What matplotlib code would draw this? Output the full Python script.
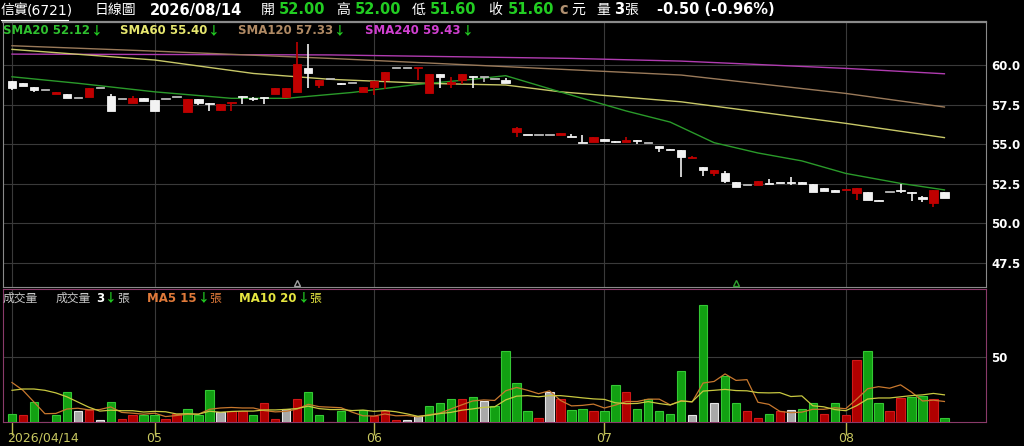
import matplotlib
matplotlib.use('Agg')
import matplotlib.pyplot as plt
from matplotlib.lines import Line2D
import numpy as np
import pandas as pd

# ---- values (86 trading days, 2026/04/14 - 2026/08/14) ----
opens = [59.00, 58.85, 58.63, 58.45, 58.15, 58.15, 57.94, 58.00, 58.53, 58.04,
         57.83, 57.62, 57.94, 57.79, 57.83, 57.96, 57.05, 57.83, 57.62, 57.16,
         57.58, 58.02, 57.89, 57.96, 58.15, 58.00, 58.31, 59.79, 58.74, 59.10,
         58.86, 58.84, 58.28, 58.63, 59.05, 59.83, 59.83, 59.79, 58.21, 59.43,
         58.80, 59.05, 59.33, 59.22, 59.12, 59.05, 55.79, 55.60, 55.60, 55.60,
         55.58, 55.54, 55.11, 55.12, 55.33, 55.22, 55.12, 55.22, 55.09, 54.92,
         54.70, 54.63, 54.11, 53.54, 53.16, 53.16, 52.59, 52.42, 52.41, 52.55,
         52.58, 52.58, 52.60, 52.47, 52.25, 52.10, 52.13, 51.94, 52.00, 51.46,
         52.00, 52.08, 51.96, 51.69, 51.31, 52.00]
highs = [59.02, 58.85, 58.63, 58.45, 58.28, 58.15, 57.94, 58.53, 58.53, 58.17,
         57.83, 58.04, 57.94, 57.79, 57.83, 57.96, 57.85, 57.83, 57.62, 57.55,
         57.63, 58.02, 57.96, 57.96, 58.53, 58.53, 61.47, 61.33, 59.05, 59.10,
         58.86, 58.84, 58.63, 59.01, 59.54, 59.83, 59.83, 59.83, 59.43, 59.43,
         59.22, 59.43, 59.33, 59.22, 59.12, 59.16, 56.07, 55.60, 55.60, 55.60,
         55.69, 55.64, 55.58, 55.47, 55.33, 55.22, 55.47, 55.30, 55.09, 54.92,
         54.70, 54.63, 54.23, 53.54, 53.37, 53.33, 52.59, 52.42, 52.70, 52.78,
         52.58, 52.95, 52.60, 52.47, 52.25, 52.10, 52.17, 52.25, 52.00, 51.46,
         52.00, 52.47, 51.96, 51.74, 52.11, 52.00]
lows = [58.42, 58.65, 58.31, 58.45, 58.15, 57.94, 57.94, 58.00, 58.53, 57.10,
        57.83, 57.62, 57.73, 57.10, 57.83, 57.96, 57.05, 57.47, 57.10, 57.08,
        57.10, 57.55, 57.73, 57.54, 58.15, 57.90, 58.31, 58.53, 58.53, 59.10,
        58.75, 58.84, 58.28, 58.10, 58.47, 59.83, 59.83, 59.05, 58.21, 58.53,
        58.53, 58.80, 58.53, 58.91, 59.12, 58.84, 55.47, 55.56, 55.60, 55.60,
        55.58, 55.43, 55.09, 55.12, 55.20, 55.06, 55.12, 55.03, 55.09, 54.53,
        54.66, 52.95, 54.11, 53.01, 53.01, 52.57, 52.32, 52.42, 52.41, 52.51,
        52.56, 52.42, 52.50, 51.96, 52.06, 51.96, 52.13, 51.48, 51.48, 51.42,
        52.00, 51.90, 51.41, 51.37, 51.05, 51.60]
closes = [58.55, 58.65, 58.42, 58.45, 58.28, 57.94, 57.94, 58.53, 58.53, 57.10,
          57.83, 57.94, 57.73, 57.10, 57.83, 57.96, 57.85, 57.62, 57.55, 57.55,
          57.63, 57.98, 57.86, 57.92, 58.53, 58.53, 60.04, 59.51, 59.05, 59.10,
          58.82, 58.84, 58.63, 59.01, 59.54, 59.83, 59.83, 59.83, 59.43, 59.22,
          58.95, 59.43, 59.22, 59.22, 59.12, 58.84, 56.00, 55.56, 55.60, 55.60,
          55.69, 55.43, 55.09, 55.47, 55.20, 55.12, 55.26, 55.18, 55.09, 54.74,
          54.66, 54.21, 54.21, 53.35, 53.35, 52.68, 52.32, 52.42, 52.70, 52.51,
          52.56, 52.56, 52.50, 51.96, 52.06, 51.96, 52.17, 52.25, 51.48, 51.42,
          52.00, 52.04, 51.92, 51.52, 52.10, 51.60]
volumes = [6, 5, 15, 0, 5, 23, 8, 9, 1, 15,
           2, 5, 5, 5, 2, 6, 10, 5, 24, 7,
           8, 8, 5, 14, 2, 10, 17, 23, 5, 0,
           8, 0, 9, 4, 8, 1, 1, 4, 12, 14,
           17, 17, 19, 16, 12, 54, 30, 8, 3, 23,
           17, 9, 10, 8, 8, 28, 23, 10, 17, 8,
           6, 39, 5, 90, 14, 35, 14, 8, 3, 6,
           8, 9, 10, 14, 6, 14, 5, 47, 54, 14,
           8, 18, 19, 20, 17, 3]
# volume colour: g = down day, r = up day, n = unchanged
vol_colors = list("grggggnrng" "rrggrrgggn" "rrgrrnrggr" "gngrrrnngg"
                  "grgnggggrn" "rggrggrggg" "ggngnggrrg" "rnggrgrrgg"
                  "rrggrg")

# moving averages read at sample days
sma20_x = [0, 6, 13, 20, 25, 31, 37, 42, 45, 50, 56, 60, 64, 68, 72, 76, 81, 85]
sma20_y = [59.26, 58.85, 58.31, 57.90, 57.90, 58.27, 58.78, 59.10, 59.33, 58.30,
           57.10, 56.40, 55.10, 54.45, 53.95, 53.16, 52.53, 52.12]
sma60_x = [0, 13, 22, 29, 38, 45, 50, 61, 76, 85]
sma60_y = [60.99, 60.32, 59.47, 59.10, 58.84, 58.74, 58.31, 57.68, 56.32, 55.42]
sma120_x = [0, 13, 29, 45, 61, 76, 85]
sma120_y = [61.22, 60.88, 60.42, 59.90, 59.37, 58.21, 57.35]
sma240_x = [0, 29, 51, 61, 76, 85]
sma240_y = [60.69, 60.64, 60.42, 60.25, 59.79, 59.45]
vol_ma5_head = [30, 24, 15, 6]
vol_ma10_head = [24, 25, 25, 24, 22, 19, 15, 11, 8]

month_ticks = [0, 13, 33, 54, 76]
month_labels = ['2026/04/14', '05', '06', '07', '08']
price_ticks = [47.5, 50.0, 52.5, 55.0, 57.5, 60.0]
flag_idx = [26, 66]
flag_colors = ['#a0a0a0', '#2fa02f']

CJK = ['Noto Sans CJK TC', 'DejaVu Sans']
LATIN = ['DejaVu Sans']
W, H = 1024, 446
GRID = '#3a3a3a'

plt.rcParams['font.family'] = CJK
fig = plt.figure(figsize=(W / 100, H / 100), dpi=100, facecolor='black')


def px_axes(left, top, right, bottom):
    return [left / W, 1 - bottom / H, (right - left) / W, (bottom - top) / H]


ax_p = fig.add_axes(px_axes(3, 21.5, 986, 286.5), facecolor='black')
ax_v = fig.add_axes(px_axes(3, 289.3, 986, 421.5), facecolor='black')

idx = np.arange(len(closes))
o, h, l, c = map(np.array, (opens, highs, lows, closes))

# ---- candles ----
cols = np.where(c > o + 1e-9, '#c00000', np.where(c < o - 1e-9, '#f2f2f2', '#b8b8b8'))
ax_p.vlines(idx, l, h, colors=cols, lw=1.2, zorder=3)
body = np.maximum(np.abs(c - o), 0.07)
ax_p.bar(idx, body, 0.76, bottom=np.minimum(o, c), color=cols, edgecolor=cols,
         lw=0.6, zorder=4)

ax_p.plot(sma240_x, sma240_y, color='#b03cb0', lw=1.0, zorder=2)
ax_p.plot(sma120_x, sma120_y, color='#9a7a5a', lw=1.0, zorder=2)
ax_p.plot(sma60_x, sma60_y, color='#c8c868', lw=1.0, zorder=2)
ax_p.plot(sma20_x, sma20_y, color='#2a9a2a', lw=1.0, zorder=2)

for fi, fc in zip(flag_idx, flag_colors):
    ax_p.plot(fi, 46.25, marker='^', mfc='none', mec=fc, ms=5, mew=1, zorder=5)

ax_p.set_xlim(-0.82, 88.79)
ax_p.set_ylim(46.02, 62.75)
ax_p.set_xticks(month_ticks)
ax_p.set_yticks(price_ticks)
ax_p.yaxis.tick_right()
ax_p.tick_params(axis='x', length=0, labelbottom=False)
ax_p.tick_params(axis='y', length=0, pad=4, labelcolor='white', labelsize=8.5)
ax_p.set_yticklabels(['%.1f' % t for t in price_ticks], fontweight='bold',
                     family=LATIN)
ax_p.grid(True, color=GRID, lw=0.8)
ax_p.set_axisbelow(True)
for s in ax_p.spines.values():
    s.set_color('#8a8a8a')
ax_p.spines['top'].set_linewidth(1.6)

# ---- volume ----
vmap = {'g': ('#12a012', '#34c834'), 'r': ('#b00000', '#d01818'), 'n': ('#a8a8a8', '#e6e6e6')}
ax_v.bar(idx, volumes, 0.76, color=[vmap[k][0] for k in vol_colors],
         edgecolor=[vmap[k][1] for k in vol_colors], lw=0.8, zorder=3)
vs = pd.Series(volumes, dtype=float)
ma5 = vs.rolling(5).mean().to_numpy()
ma10 = vs.rolling(10).mean().to_numpy()
ma5[:len(vol_ma5_head)] = vol_ma5_head
ma10[:len(vol_ma10_head)] = vol_ma10_head
ax_v.plot(idx, ma5, color='#c8782e', lw=0.9, zorder=4)
ax_v.plot(idx, ma10, color='#c8c840', lw=0.9, zorder=4)

ax_v.set_xlim(-0.82, 88.79)
ax_v.set_ylim(0, 101.7)
ax_v.set_xticks(month_ticks)
ax_v.set_xticklabels([''] * len(month_ticks))
ax_v.set_yticks([50])
ax_v.yaxis.tick_right()
ax_v.tick_params(axis='x', direction='out', length=9, color='#b8b850', width=1)
ax_v.tick_params(axis='y', length=0, pad=4, labelcolor='white', labelsize=8.5)
ax_v.set_yticklabels(['50'], fontweight='bold', family=LATIN)
ax_v.grid(True, color=GRID, lw=0.8)
ax_v.set_axisbelow(True)
for s in ax_v.spines.values():
    s.set_color('#8a3a6a')

xt = ax_v.get_xaxis_transform()
for k, (t, lab) in enumerate(zip(month_ticks, month_labels)):
    ax_v.text(t - 0.45 if k == 0 else t, -0.125, lab, transform=xt,
              ha='left' if k == 0 else 'center', va='center',
              color='#c8c860', fontsize=9, family=LATIN)

# ---- texts ----
renderer = fig.canvas.get_renderer()


def text_row(x, y, pieces, size=8.5):
    for s, color, bold, gap in pieces:
        fam = LATIN if s.isascii() else CJK
        t = fig.text(x / W, 1 - y / H, s, color=color, fontsize=size,
                     fontweight='bold' if bold else 'normal', family=fam,
                     ha='left', va='center')
        x += t.get_window_extent(renderer=renderer).width + gap


ARROW = '#22cc22'
DOWN = '\u2193'
text_row(3, 31, [('SMA20 52.12', '#2fc02f', True, 1), (DOWN, ARROW, True, 0)])
text_row(120, 31, [('SMA60 55.40', '#e6e66e', True, 1), (DOWN, ARROW, True, 0)])
text_row(238, 31, [('SMA120 57.33', '#b08a64', True, 1), (DOWN, ARROW, True, 0)])
text_row(365, 31, [('SMA240 59.43', '#d040d0', True, 1), (DOWN, ARROW, True, 0)])

GR = '#c8c8c8'
text_row(3, 298, [('成交量', GR, False, 0)])
text_row(56, 298, [('成交量', GR, False, 5), ('3', 'white', True, 1),
                   (DOWN, ARROW, True, 0), ('張', GR, False, 0)])
text_row(147, 298, [('MA5 15', '#e07a3a', True, 1), (DOWN, ARROW, True, 0),
                    ('張', '#e07a3a', False, 0)])
text_row(239, 298, [('MA10 20', '#e6e640', True, 1), (DOWN, ARROW, True, 0),
                    ('張', '#e6e640', False, 0)])

HG = '#22cc22'
header = [
    (1, '信實', 'white', False), (27, '(6721)', 'white', False),
    (95, '日線圖', 'white', False),
    (150, '2026/08/14', 'white', True),
    (261, '開', 'white', False), (279, '52.00', HG, True),
    (336, '高', 'white', False), (355, '52.00', HG, True),
    (412, '低', 'white', False), (430, '51.60', HG, True),
    (488, '收', 'white', False), (508, '51.60', HG, True),
    (559, 'c', '#b09070', True), (571, '元', 'white', False),
    (596, '量', 'white', False), (614, '3', 'white', True), (624, '張', 'white', False),
    (657, '-0.50 (-0.96%)', 'white', True),
]
for x, s, color, bold in header:
    text_row(x, 10, [(s, color, bold, 0)], size=10.5 if bold else 10)
fig.add_artist(Line2D([1 / W, 68 / W], [1 - 19.5 / H] * 2, color='white', lw=0.8))

fig.savefig('out.png', dpi=100, facecolor='black')
